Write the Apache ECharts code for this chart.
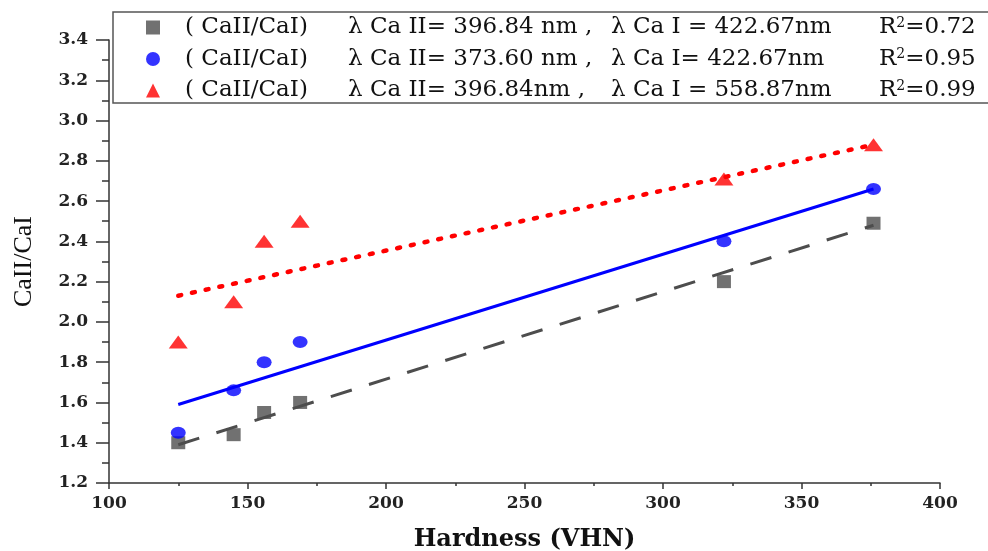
<!DOCTYPE html>
<html>
<head>
<meta charset="utf-8">
<script src="https://cdn.jsdelivr.net/npm/echarts@6/dist/echarts.min.js"></script>
<style>
  html, body { margin: 0; padding: 0; background: #fff; }
  #main { width: 988px; height: 551px; }
</style>
</head>
<body>
<div id="main"></div>
<script>
// hardness values (VHN)
var hardness = [125, 145, 156, 169, 322, 376];
// CaII/CaI ratios
var ratioA = [1.40, 1.44, 1.55, 1.60, 2.20, 2.49]; // 396.84 / 422.67
var ratioB = [1.45, 1.66, 1.80, 1.90, 2.40, 2.66]; // 373.60 / 422.67
var ratioC = [1.90, 2.10, 2.40, 2.50, 2.71, 2.88]; // 396.84 / 558.87
// linear fit end points (x = 125 and x = 376)
var fitX = [125, 376];
var fitA = [1.39, 2.48];
var fitB = [1.59, 2.66];
var fitC = [2.13, 2.88];

var names = ['A', 'B', 'C'];
var legendText = {
  A: ['( CaII/CaI)', '\u03bb Ca II= 396.84 nm ,', '\u03bb Ca I = 422.67nm', '=0.72'],
  B: ['( CaII/CaI)', '\u03bb Ca II= 373.60 nm ,', '\u03bb Ca I= 422.67nm', '=0.95'],
  C: ['( CaII/CaI)', '\u03bb Ca II= 396.84nm ,', '\u03bb Ca I = 558.87nm', '=0.99']
};

function pairs(xs, ys) {
  return xs.map(function (x, i) { return [x, ys[i]]; });
}

var serif = 'DejaVu Serif';
var chart = echarts.init(document.getElementById('main'));

var option = {
  backgroundColor: '#fff',
  animation: false,
  grid: { left: 109, right: 48, top: 40, bottom: 68, outerBoundsMode: 'none' },
  legend: {
    data: names,
    orient: 'vertical',
    left: 113,
    top: 12,
    padding: [4, 40, 1, 33],
    itemGap: 8.5,
    itemWidth: 14,
    itemHeight: 14,
    borderColor: '#555',
    borderWidth: 1.5,
    formatter: function (n) {
      var t = legendText[n];
      return '{p|' + t[0] + '}{q|' + t[1] + '}{r|' + t[2] + '}{a|R}{s|2}{a|' + t[3] + '}';
    },
    textStyle: {
      padding: [0, 0, 0, 20],
      rich: {
        p: { fontFamily: serif, fontSize: 23, lineHeight: 22, color: '#111', width: 163 },
        q: { fontFamily: serif, fontSize: 23, lineHeight: 22, color: '#111', width: 263 },
        r: { fontFamily: serif, fontSize: 23, lineHeight: 22, color: '#111', width: 268 },
        a: { fontFamily: serif, fontSize: 23, lineHeight: 22, color: '#111' },
        s: { fontFamily: serif, fontSize: 14, color: '#111', verticalAlign: 'top', padding: [0, 0, 9, 0] }
      }
    }
  },
  xAxis: {
    type: 'value',
    min: 100,
    max: 400,
    interval: 50,
    name: 'Hardness (VHN)',
    nameLocation: 'middle',
    nameGap: 45,
    nameTextStyle: { fontFamily: serif, fontSize: 24, fontWeight: 'bold', color: '#111' },
    axisLine: { show: true, lineStyle: { color: '#333', width: 1.5 } },
    axisTick: { show: true, inside: false, length: 6, lineStyle: { color: '#333', width: 1.5 } },
    minorTick: { show: true, splitNumber: 2, length: 3, lineStyle: { color: '#333', width: 1.5 } },
    axisLabel: { fontFamily: serif, fontSize: 17, fontWeight: 'bold', color: '#222', margin: 12 },
    splitLine: { show: false }
  },
  yAxis: {
    type: 'value',
    min: 1.2,
    max: 3.4,
    interval: 0.2,
    name: 'CaII/CaI',
    nameLocation: 'middle',
    nameGap: 72,
    nameRotate: 90,
    nameTextStyle: { fontFamily: 'Liberation Serif', fontSize: 26, color: '#111' },
    axisLine: { show: true, lineStyle: { color: '#333', width: 1.5 } },
    axisTick: { show: true, inside: false, length: 13, lineStyle: { color: '#333', width: 1.5 } },
    minorTick: { show: true, splitNumber: 2, length: 7, lineStyle: { color: '#333', width: 1.5 } },
    axisLabel: {
      fontFamily: serif, fontSize: 17, fontWeight: 'bold', color: '#222', margin: 21,
      formatter: function (v) { return v.toFixed(1); }
    },
    splitLine: { show: false }
  },
  series: [
    {
      name: 'A-fit', type: 'line', data: pairs(fitX, fitA), symbol: 'none', z: 2,
      lineStyle: { color: '#4d4d4d', width: 3, type: [22, 18] }
    },
    {
      name: 'B-fit', type: 'line', data: pairs(fitX, fitB), symbol: 'none', z: 2,
      lineStyle: { color: '#0000ff', width: 3 }
    },
    {
      name: 'C-fit', type: 'line', data: pairs(fitX, fitC), symbol: 'none', z: 2,
      lineStyle: { color: '#ff0000', width: 4.5, type: [3, 11], cap: 'round' }
    },
    {
      name: 'A', type: 'scatter', data: pairs(hardness, ratioA), symbol: 'rect', symbolSize: [14, 13], z: 3,
      itemStyle: { color: '#4d4d4d' }
    },
    {
      name: 'B', type: 'scatter', data: pairs(hardness, ratioB), symbol: 'circle', symbolSize: [15, 12], z: 3,
      itemStyle: { color: '#0000ff' }
    },
    {
      name: 'C', type: 'scatter', data: pairs(hardness, ratioC), symbol: 'triangle', symbolSize: [19, 13], z: 3,
      itemStyle: { color: '#ff0000' }
    }
  ]
};

chart.setOption(option);
</script>
</body>
</html>
